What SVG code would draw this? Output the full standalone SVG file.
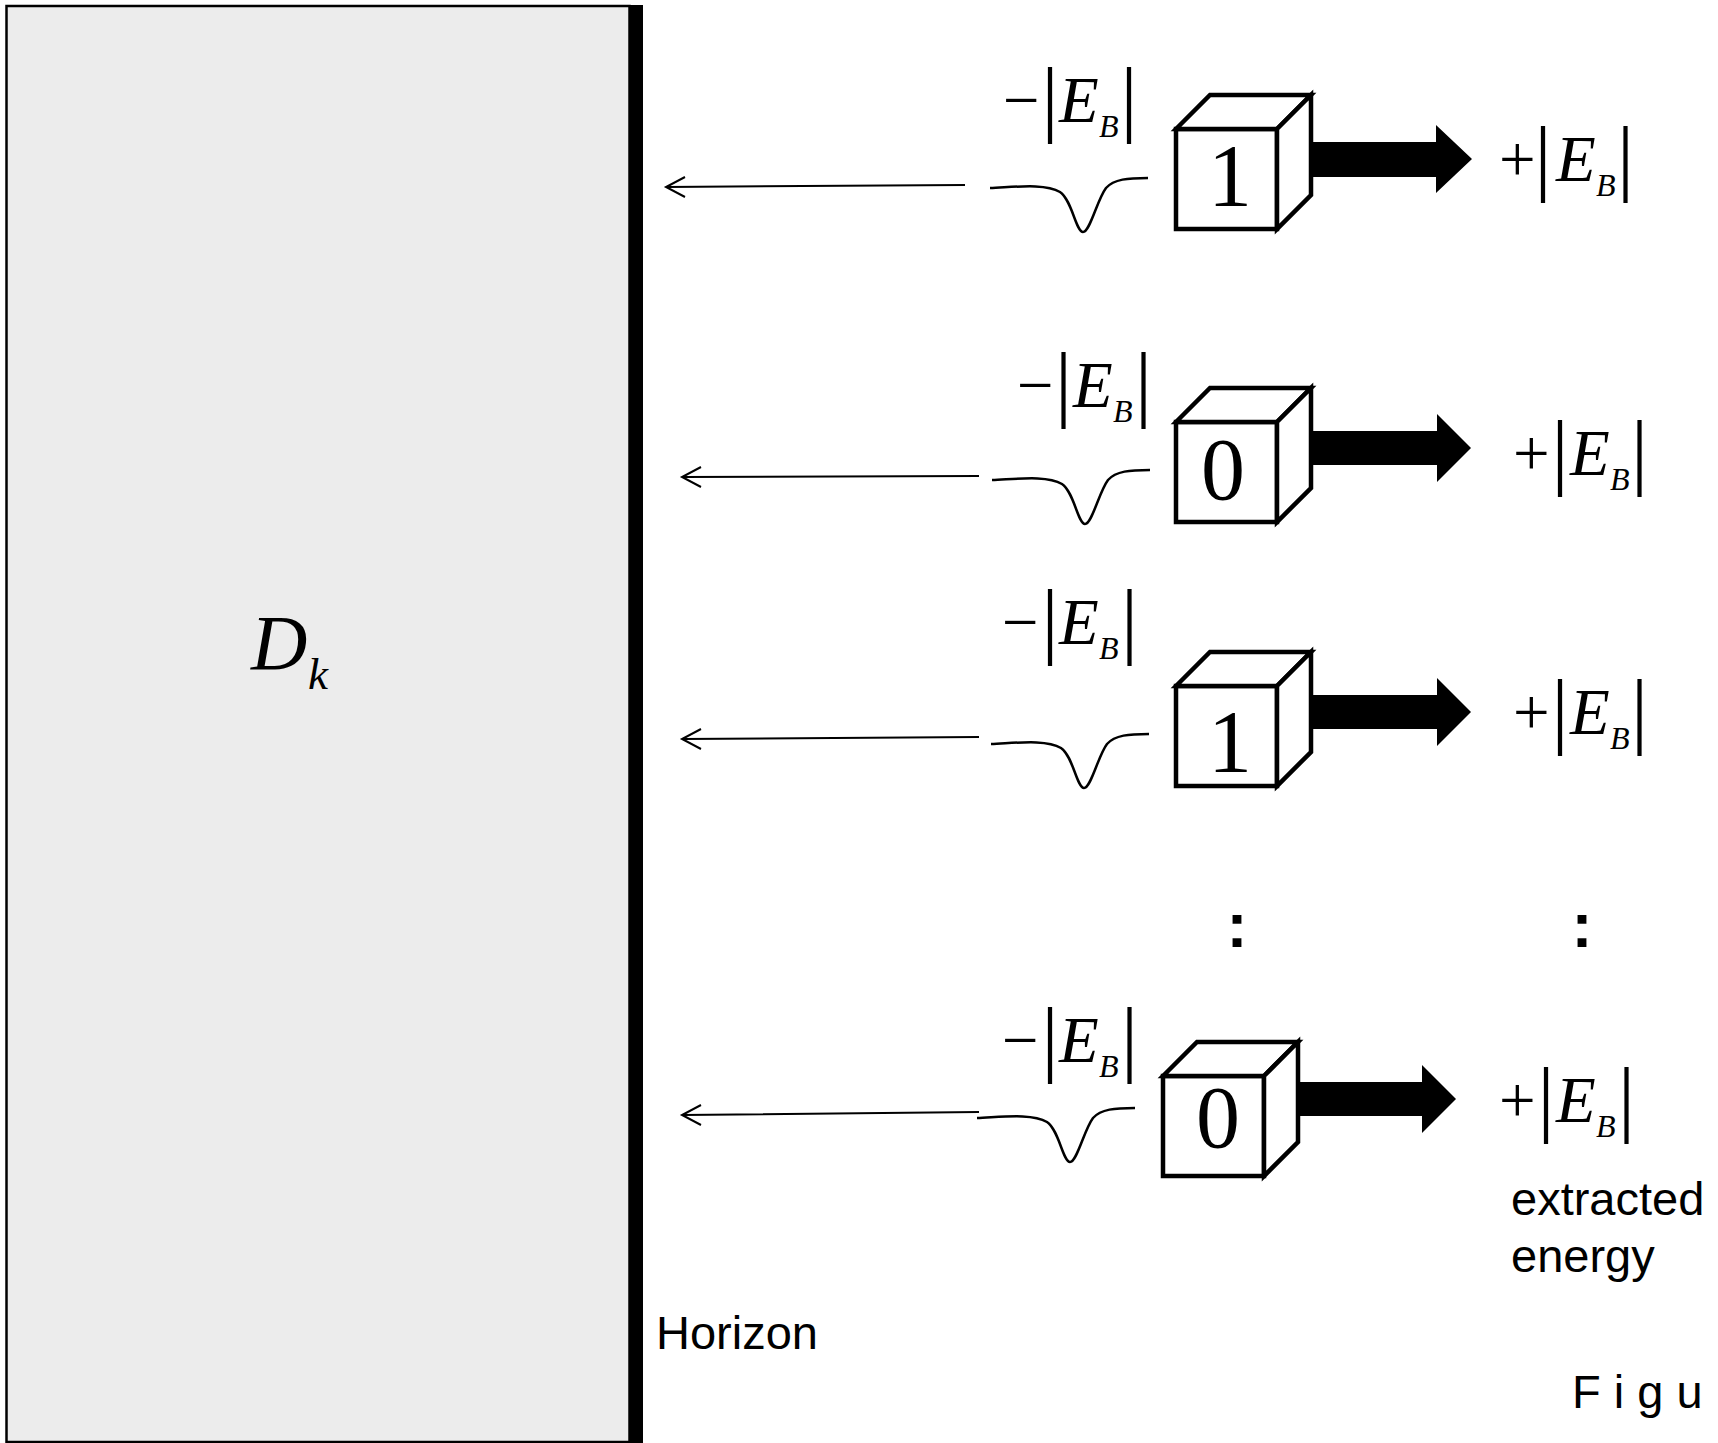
<svg xmlns="http://www.w3.org/2000/svg" xmlns:xlink="http://www.w3.org/1999/xlink" width="1718" height="1443" viewBox="0 0 1718 1443">
<style>
.m{font-family:"Liberation Serif","Times New Roman",serif;font-size:65px;fill:#000}
.it{font-style:italic}
.sub{font-style:italic;font-size:32px}
.bar{font-style:normal;font-size:85px}
.dig{font-family:"Liberation Serif","Times New Roman",serif;font-size:88px;text-anchor:middle;fill:#000}
.lbl{font-family:"Liberation Sans",Arial,sans-serif;font-size:47px;fill:#000}
.dots{font-family:"Liberation Sans",Arial,sans-serif;font-weight:bold;font-size:63px;text-anchor:middle;fill:#000}
.cube{fill:#fff;stroke:#000;stroke-width:4.5;stroke-linejoin:miter}
.thin{fill:none;stroke:#000;stroke-width:2}
.wave{fill:none;stroke:#000;stroke-width:2.5}
.big{fill:#000;stroke:none}
</style>
<defs>
<g id="cubeShape">
<rect class="cube" x="0" y="0" width="101" height="100"/>
<path class="cube" d="M0,0 L34,-34 L135,-34 L101,0 Z"/>
<path class="cube" d="M101,0 L135,-34 L135,66 L101,100 Z"/>
</g>
<path id="waveShape" class="wave" d="M990,188 C1015,187 1045,183 1060,192 C1072,200 1076,232 1083,232 C1090,232 1097,200 1106,188 C1114,179 1128,178 1148,178"/>
</defs>

<g id="region">
<rect x="6.5" y="6" width="623" height="1436" fill="#ECECEC" stroke="#000" stroke-width="2.5"/>
<rect x="629" y="5" width="14" height="1438" fill="#000"/>
<text x="251" y="669" class="m it" style="font-size:78px">D<tspan x="308" y="689" style="font-size:45px">k</tspan></text>
</g>

<g id="connectors">
<path class="thin" d="M965,185 L666,187 M685,177 L666,187 L685,197"/>
<path class="thin" d="M979,476 L682,477 M701,467 L682,477 L701,487"/>
<path class="thin" d="M979,737 L682,739 M701,729 L682,739 L701,749"/>
<path class="thin" d="M979,1112 L682,1115 M701,1105 L682,1115 L701,1125"/>
<use xlink:href="#waveShape"/>
<use xlink:href="#waveShape" transform="translate(2,292)"/>
<use xlink:href="#waveShape" transform="translate(1,556)"/>
<use xlink:href="#waveShape" transform="translate(-13,930)"/>
<polygon class="big" points="1311,142 1436,142 1436,125 1472,159 1436,193 1436,177 1311,177"/>
<polygon class="big" points="1310,431 1437,431 1437,414 1471,448 1437,482 1437,465 1310,465"/>
<polygon class="big" points="1310,695 1437,695 1437,678 1471,712 1437,746 1437,729 1310,729"/>
<polygon class="big" points="1298,1082 1422,1082 1422,1065 1456,1099 1422,1133 1422,1116 1298,1116"/>
</g>

<g id="bit1">
<use xlink:href="#cubeShape" transform="translate(1176,129)"/>
<text class="dig" x="1230" y="205">1</text>
</g>
<g id="bit2">
<use xlink:href="#cubeShape" transform="translate(1176,422)"/>
<text class="dig" x="1223" y="499">0</text>
</g>
<g id="bit3">
<use xlink:href="#cubeShape" transform="translate(1176,686)"/>
<text class="dig" x="1230" y="771">1</text>
</g>
<g id="bit4">
<use xlink:href="#cubeShape" transform="translate(1163,1076)"/>
<text class="dig" x="1218" y="1147">0</text>
</g>

<g id="minusLabels">
<text class="m" y="122"><tspan x="1003">−</tspan><tspan class="bar" x="1041.5" y="126">|</tspan><tspan class="it" x="1059" y="122">E</tspan><tspan class="sub" x="1099" y="137">B</tspan><tspan class="bar" x="1120.5" y="126">|</tspan></text>
<text class="m" y="407"><tspan x="1017">−</tspan><tspan class="bar" x="1055" y="411">|</tspan><tspan class="it" x="1073" y="407">E</tspan><tspan class="sub" x="1113" y="422">B</tspan><tspan class="bar" x="1135" y="411">|</tspan></text>
<text class="m" y="644"><tspan x="1002">−</tspan><tspan class="bar" x="1041.5" y="648">|</tspan><tspan class="it" x="1059" y="644">E</tspan><tspan class="sub" x="1099" y="659">B</tspan><tspan class="bar" x="1121" y="648">|</tspan></text>
<text class="m" y="1062"><tspan x="1002">−</tspan><tspan class="bar" x="1041.5" y="1066">|</tspan><tspan class="it" x="1059" y="1062">E</tspan><tspan class="sub" x="1099" y="1077">B</tspan><tspan class="bar" x="1121" y="1066">|</tspan></text>
</g>

<g id="plusLabels">
<text class="m" y="181"><tspan x="1499">+</tspan><tspan class="bar" x="1534.5" y="185">|</tspan><tspan class="it" x="1556" y="181">E</tspan><tspan class="sub" x="1596" y="196">B</tspan><tspan class="bar" x="1617" y="185">|</tspan></text>
<text class="m" y="475"><tspan x="1513">+</tspan><tspan class="bar" x="1551.5" y="479">|</tspan><tspan class="it" x="1570" y="475">E</tspan><tspan class="sub" x="1610" y="490">B</tspan><tspan class="bar" x="1631" y="479">|</tspan></text>
<text class="m" y="734"><tspan x="1513">+</tspan><tspan class="bar" x="1551.5" y="738">|</tspan><tspan class="it" x="1570" y="734">E</tspan><tspan class="sub" x="1610" y="749">B</tspan><tspan class="bar" x="1631" y="738">|</tspan></text>
<text class="m" y="1122"><tspan x="1499">+</tspan><tspan class="bar" x="1537.5" y="1126">|</tspan><tspan class="it" x="1556" y="1122">E</tspan><tspan class="sub" x="1596" y="1137">B</tspan><tspan class="bar" x="1618" y="1126">|</tspan></text>
</g>

<g id="ellipsis">
<text class="dots" x="1237" y="947">:</text>
<text class="dots" x="1582" y="947">:</text>
</g>

<g id="texts">
<text class="lbl" x="1511" y="1215">extracted</text>
<text class="lbl" x="1511" y="1272">energy</text>
<text class="lbl" x="656" y="1349">Horizon</text>
<text class="lbl" x="1572" y="1408">F i g u</text>
</g>
</svg>
